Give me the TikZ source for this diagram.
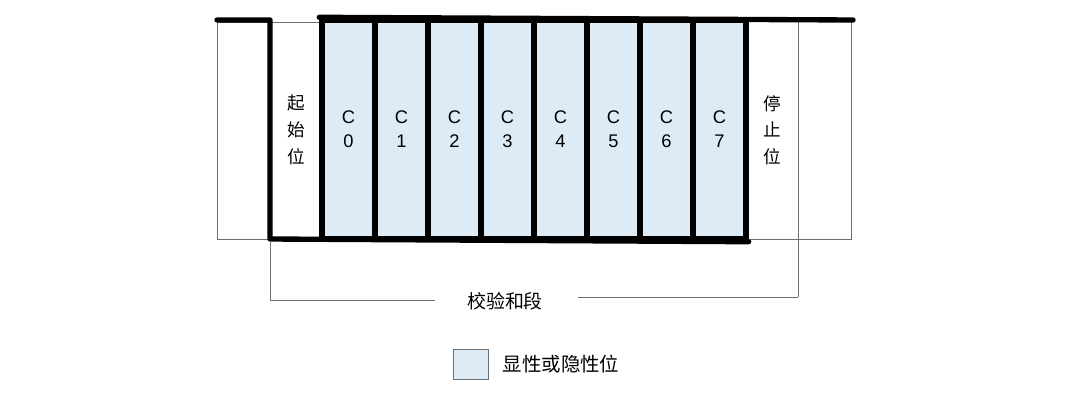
\documentclass[tikz,border=0pt]{standalone}
\usepackage{fontspec}
\setmainfont{Liberation Sans}
\newfontfamily\cjk{Noto Sans CJK SC}
\usetikzlibrary{positioning}

\definecolor{bitblue}{HTML}{DDEBF7}
\definecolor{guidegray}{HTML}{6E6E6E}

\begin{document}
\begin{tikzpicture}[x=0.025cm,y=-0.025cm,
  bitcell/.style={rectangle,draw,line width=3.8pt,fill=bitblue,minimum width=1.325cm,
    minimum height=5.475cm,align=center,font=\fontsize{13}{17}\selectfont,inner sep=0pt},
  endbit/.style={align=center,font=\cjk\fontsize{12.5}{19}\selectfont,inner sep=0pt},
  frame/.style={line width=3.8pt,line join=round,line cap=round},
  guide/.style={draw=guidegray,line width=0.7pt}
]
  \useasboundingbox (0,0) rectangle (1080,403);

  % idle boxes and bracket guides
  \draw[guide] (270,22) -- (217,22) -- (217,239) -- (270,239);
  \draw[guide] (270,22) -- (322,22);
  \draw[guide] (747,239) -- (851,239) -- (851,22);
  \coordinate (sumL) at (270,300);
  \coordinate (sumR) at (798,297);

  % data bits
  \foreach \i in {0,...,7}
    \node[bitcell] (c\i) at ({348.5+53*\i},129.5) {C\\\i};

  \node[endbit] (start) at (296,130) {起\\始\\位};
  \node[endbit] (stop) at (772.5,130) {停\\止\\位};
  \draw[guide] (798,22) -- (sumR);

  % bus level
  \draw[frame] (217,20) -- (270,20) -- (270,239) -- (c7.south east);
  \draw[frame] (c0.north west) -- (853,20);

  % checksum segment
  \node[font=\cjk\fontsize{13.5}{16}\selectfont] (sum) at (505,301) {校验和段};
  \draw[guide] (270,241) -- (sumL) -- (435,300);
  \draw[guide] (578,297) -- (sumR);

  % legend
  \node[draw=guidegray,line width=0.7pt,fill=bitblue,minimum width=0.875cm,minimum height=0.75cm,inner sep=0pt] (key) at (470.5,364) {};
  \node[right=0.35cm of key,font=\cjk\fontsize{13.8}{16}\selectfont,inner sep=0pt] (keytext) {显性或隐性位};
\end{tikzpicture}
\end{document}
